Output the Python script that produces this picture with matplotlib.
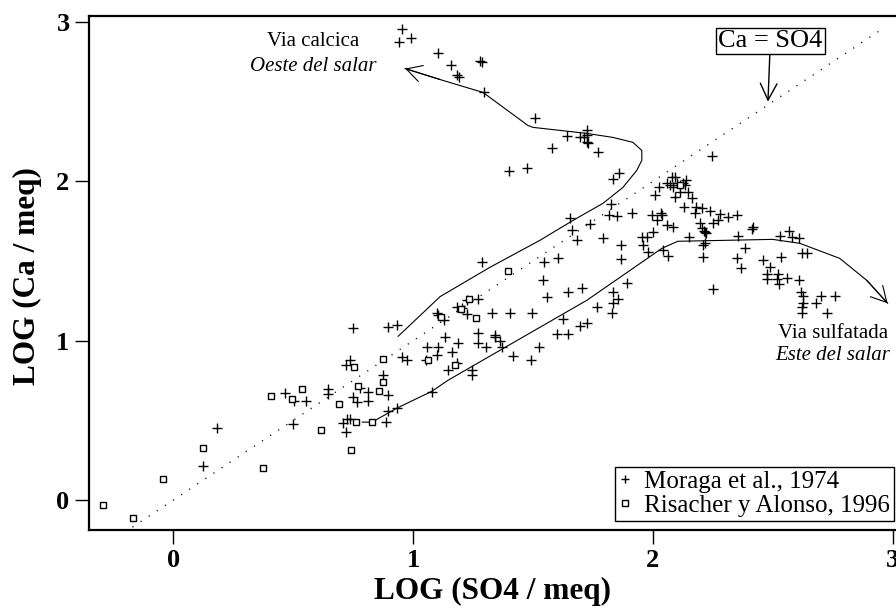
import numpy as np
import matplotlib.pyplot as plt

# Moraga et al., 1974  (LOG SO4, LOG Ca)
moraga_x = [0.184, 0.125, 0.466, 0.502, 0.552, 0.500, 0.644, 0.644, 0.751, 0.737, 0.719, 0.751,
            0.765, 0.811, 0.813, 0.780, 0.897, 0.873, 0.706, 0.723, 0.737, 0.719, 0.887, 0.897,
            0.934, 0.897, 0.932, 0.955, 0.973,
            1.078, 1.244, 1.244, 1.147, 1.182, 1.054, 1.098, 1.057, 1.105, 1.161, 1.188, 1.133,
            1.272, 1.272, 1.304, 1.342, 1.342, 1.362, 1.369, 1.418, 1.492, 1.526, 1.599, 1.647,
            1.696, 1.727, 1.624, 1.766, 1.831, 1.835, 1.853, 1.835, 1.891, 1.703, 1.645, 1.560,
            1.543, 1.547, 1.606, 1.682, 1.793, 1.866, 1.866, 1.664, 1.654, 1.738, 1.818, 1.849,
            1.826, 1.289, 1.495, 1.404, 1.331, 1.226, 1.272, 1.224, 1.203, 1.182, 1.105, 1.130,
            1.098,
            0.955, 0.943, 0.990, 1.105, 1.157, 1.182, 1.190, 1.286, 1.280, 1.296, 1.508, 1.640,
            1.696, 1.724, 1.724, 1.724, 1.731, 1.713, 1.772, 1.578, 1.400, 1.474, 1.835, 1.860,
            2.245, 2.078, 2.092, 2.057, 2.071, 2.085, 2.099, 2.113, 2.127, 2.138, 2.134, 2.148,
            2.113, 2.092, 2.027, 2.009, 2.162, 2.131, 2.178, 2.203, 2.238, 2.176, 2.280, 2.314,
            2.350, 2.273, 2.252, 2.195, 2.205, 2.212, 2.217, 2.222, 2.419, 2.412, 2.569, 2.530,
            2.579, 2.609, 2.354, 2.152, 2.217, 2.210, 2.210, 2.384, 2.349, 2.366, 2.252, 2.458,
            2.488, 2.533, 2.620, 2.641, 2.474, 2.474, 2.523, 2.516, 2.526, 2.558, 2.609, 2.618,
            2.627, 2.627, 2.620, 2.623, 2.679, 2.700, 2.759, 2.725,
            1.912, 1.995, 2.037, 2.016, 2.032, 2.057, 2.082, 2.002, 1.953, 1.974, 1.960, 1.981,
            2.043, 2.062]
moraga_y = [0.454, 0.213, 0.674, 0.623, 0.621, 0.477, 0.695, 0.663, 1.078, 0.879, 0.845, 0.649,
            0.613, 0.621, 0.680, 0.701, 0.659, 0.785, 0.485, 0.508, 0.508, 0.425, 0.488, 0.559,
            0.579, 1.084, 1.099, 0.900, 0.879,
            0.680, 0.816, 0.785, 0.816, 0.858, 0.879, 0.910, 0.958, 0.958, 0.931, 0.983, 1.025,
            1.046, 0.983, 0.958, 1.036, 1.021, 1.000, 0.962, 0.906, 0.879, 0.958, 1.042, 1.042,
            1.094, 1.113, 1.134, 1.210, 1.172, 1.235, 1.260, 1.308, 1.360, 1.329, 1.304, 1.276,
            1.381, 1.496, 1.521, 1.632, 1.643, 1.601, 1.511, 1.695, 1.768, 1.731, 1.789, 1.783,
            1.858, 1.496, 1.172, 1.172, 1.172, 1.166, 1.262, 1.255, 1.203, 1.213, 1.161, 1.130,
            1.172,
            2.955, 2.877, 2.902, 2.808, 2.731, 2.668, 2.657, 2.750, 2.755, 2.563, 2.400, 2.287,
            2.281, 2.323, 2.291, 2.249, 2.238, 2.281, 2.183, 2.208, 2.067, 2.086, 2.015, 2.055,
            2.159, 2.030, 2.030, 1.988, 1.977, 1.967, 1.988, 1.977, 1.988, 2.009, 1.977, 1.935,
            1.935, 1.904, 1.967, 1.915, 1.893, 1.841, 1.841, 1.831, 1.816, 1.800, 1.793, 1.778,
            1.789, 1.758, 1.737, 1.740, 1.710, 1.690, 1.684, 1.674, 1.716, 1.699, 1.691, 1.657,
            1.653, 1.643, 1.657, 1.653, 1.615, 1.601, 1.527, 1.584, 1.521, 1.454, 1.323, 1.507,
            1.465, 1.523, 1.549, 1.549, 1.419, 1.385, 1.419, 1.385, 1.356, 1.391, 1.381, 1.304,
            1.283, 1.235, 1.214, 1.176, 1.235, 1.283, 1.281, 1.176,
            1.804, 1.789, 1.789, 1.758, 1.800, 1.726, 1.712, 1.684, 1.653, 1.653, 1.601, 1.559,
            1.569, 1.532]

# Risacher y Alonso, 1996
risacher_x = [-0.294, -0.169, -0.041, 0.125, 0.373, 0.407, 0.495, 0.535, 0.615, 0.691, 0.741,
              0.752, 0.772, 0.763, 0.827, 0.858, 0.873, 0.873, 1.175, 1.063, 1.234, 1.200,
              1.261, 1.115, 1.397, 2.113]
risacher_y = [-0.031, -0.111, 0.132, 0.325, 0.203, 0.653, 0.636, 0.697, 0.437, 0.601, 0.314,
              0.835, 0.716, 0.488, 0.488, 0.682, 0.741, 0.885, 0.847, 0.879, 1.262, 1.199,
              1.141, 1.147, 1.438, 1.977]

# evolution paths
calcica_x = [0.938, 1.113, 1.321, 1.529, 1.667, 1.792, 1.875, 1.933, 1.954, 1.954, 1.917,
             1.833, 1.725, 1.500, 1.479, 1.292, 1.113, 0.967]
calcica_y = [1.028, 1.277, 1.461, 1.630, 1.755, 1.862, 1.962, 2.069, 2.132, 2.194, 2.245,
             2.276, 2.301, 2.339, 2.351, 2.558, 2.639, 2.708]
sulfatada_x = [0.788, 0.829, 0.933, 1.079, 1.146, 1.725, 2.038, 2.104, 2.500, 2.613, 2.779,
               2.892, 2.979]
sulfatada_y = [0.489, 0.489, 0.577, 0.683, 0.752, 1.254, 1.580, 1.624, 1.636, 1.611, 1.517,
               1.379, 1.235]

ratio_line = [-0.17, 2.97]

serif = 'Liberation Serif'
plt.rcParams['font.family'] = serif

fig = plt.figure(figsize=(8.96, 6.08), dpi=100)
ax = fig.add_axes([0.0993, 0.1283, 0.9007, 0.8454])

ax.plot(ratio_line, ratio_line, color='black', lw=1.0, linestyle=(0, (0.8, 6.2)))
ax.plot(calcica_x, calcica_y, color='black', lw=0.8)
ax.plot(sulfatada_x, sulfatada_y, color='black', lw=0.8)

head = dict(arrowstyle='->,head_length=0.55,head_width=0.3', color='black', lw=0.8,
            shrinkA=0, shrinkB=0, mutation_scale=20)
ax.annotate('', xy=(calcica_x[-1], calcica_y[-1]), xytext=(calcica_x[-2], calcica_y[-2]),
            arrowprops=head)
ax.annotate('', xy=(sulfatada_x[-1], sulfatada_y[-1]), xytext=(sulfatada_x[-2], sulfatada_y[-2]),
            arrowprops=head)

ax.plot(moraga_x, moraga_y, linestyle='none', marker='+', ms=6.5, mew=1.0, color='black',
        label='Moraga et al., 1974')
ax.plot(risacher_x, risacher_y, linestyle='none', marker='s', ms=5, mew=1.0, mfc='white',
        mec='black', label='Risacher y Alonso, 1996')

ax.annotate('Ca = SO4', xy=(2.48, 2.5), xytext=(2.49, 2.88), ha='center', va='center',
            fontsize=19, family=serif,
            bbox=dict(boxstyle='square,pad=0.08', fc='white', ec='black', lw=1.0),
            arrowprops=dict(arrowstyle='->,head_length=0.6,head_width=0.3', color='black',
                            lw=1.0, shrinkA=0, shrinkB=0, mutation_scale=20))

ax.text(0.585, 2.88, 'Via calcica', ha='center', va='center', fontsize=15)
ax.text(0.585, 2.72, 'Oeste del salar', ha='center', va='center', fontsize=15, style='italic')
ax.text(2.98, 1.045, 'Via sulfatada', ha='right', va='center', fontsize=15)
ax.text(2.99, 0.91, 'Este del salar', ha='right', va='center', fontsize=15, style='italic')

ax.set_xlim(-0.3515, 3.014)
ax.set_ylim(-0.188, 3.038)
ax.set_xticks([0, 1, 2, 3])
ax.set_yticks([0, 1, 2, 3])
ax.tick_params(direction='out', length=10, width=1.0)
ax.tick_params(axis='y', pad=4)
ax.tick_params(axis='x', pad=4)
for lab in ax.get_xticklabels() + ax.get_yticklabels():
    lab.set_fontsize(19)
    lab.set_fontweight('bold')

for side in ['left', 'bottom', 'top']:
    ax.spines[side].set_linewidth(1.6)
ax.spines['right'].set_visible(False)

ax.set_xlabel('LOG (SO4 / meq)', fontsize=22.5, fontweight='bold')
ax.set_ylabel('LOG (Ca / meq)', fontsize=22.5, fontweight='bold')
ax.xaxis.set_label_coords(0.5, -0.092)
ax.yaxis.set_label_coords(-0.058, 0.494)

leg = ax.legend(loc='lower right', bbox_to_anchor=(0.997, 0.018), fontsize=18,
                frameon=True, fancybox=False, edgecolor='black', framealpha=1,
                handlelength=0.5, handletextpad=0.5, borderpad=0.15, labelspacing=0.05,
                borderaxespad=0, markerscale=0.8)
leg.get_frame().set_linewidth(1.0)

fig.savefig('out.png', dpi=100)
